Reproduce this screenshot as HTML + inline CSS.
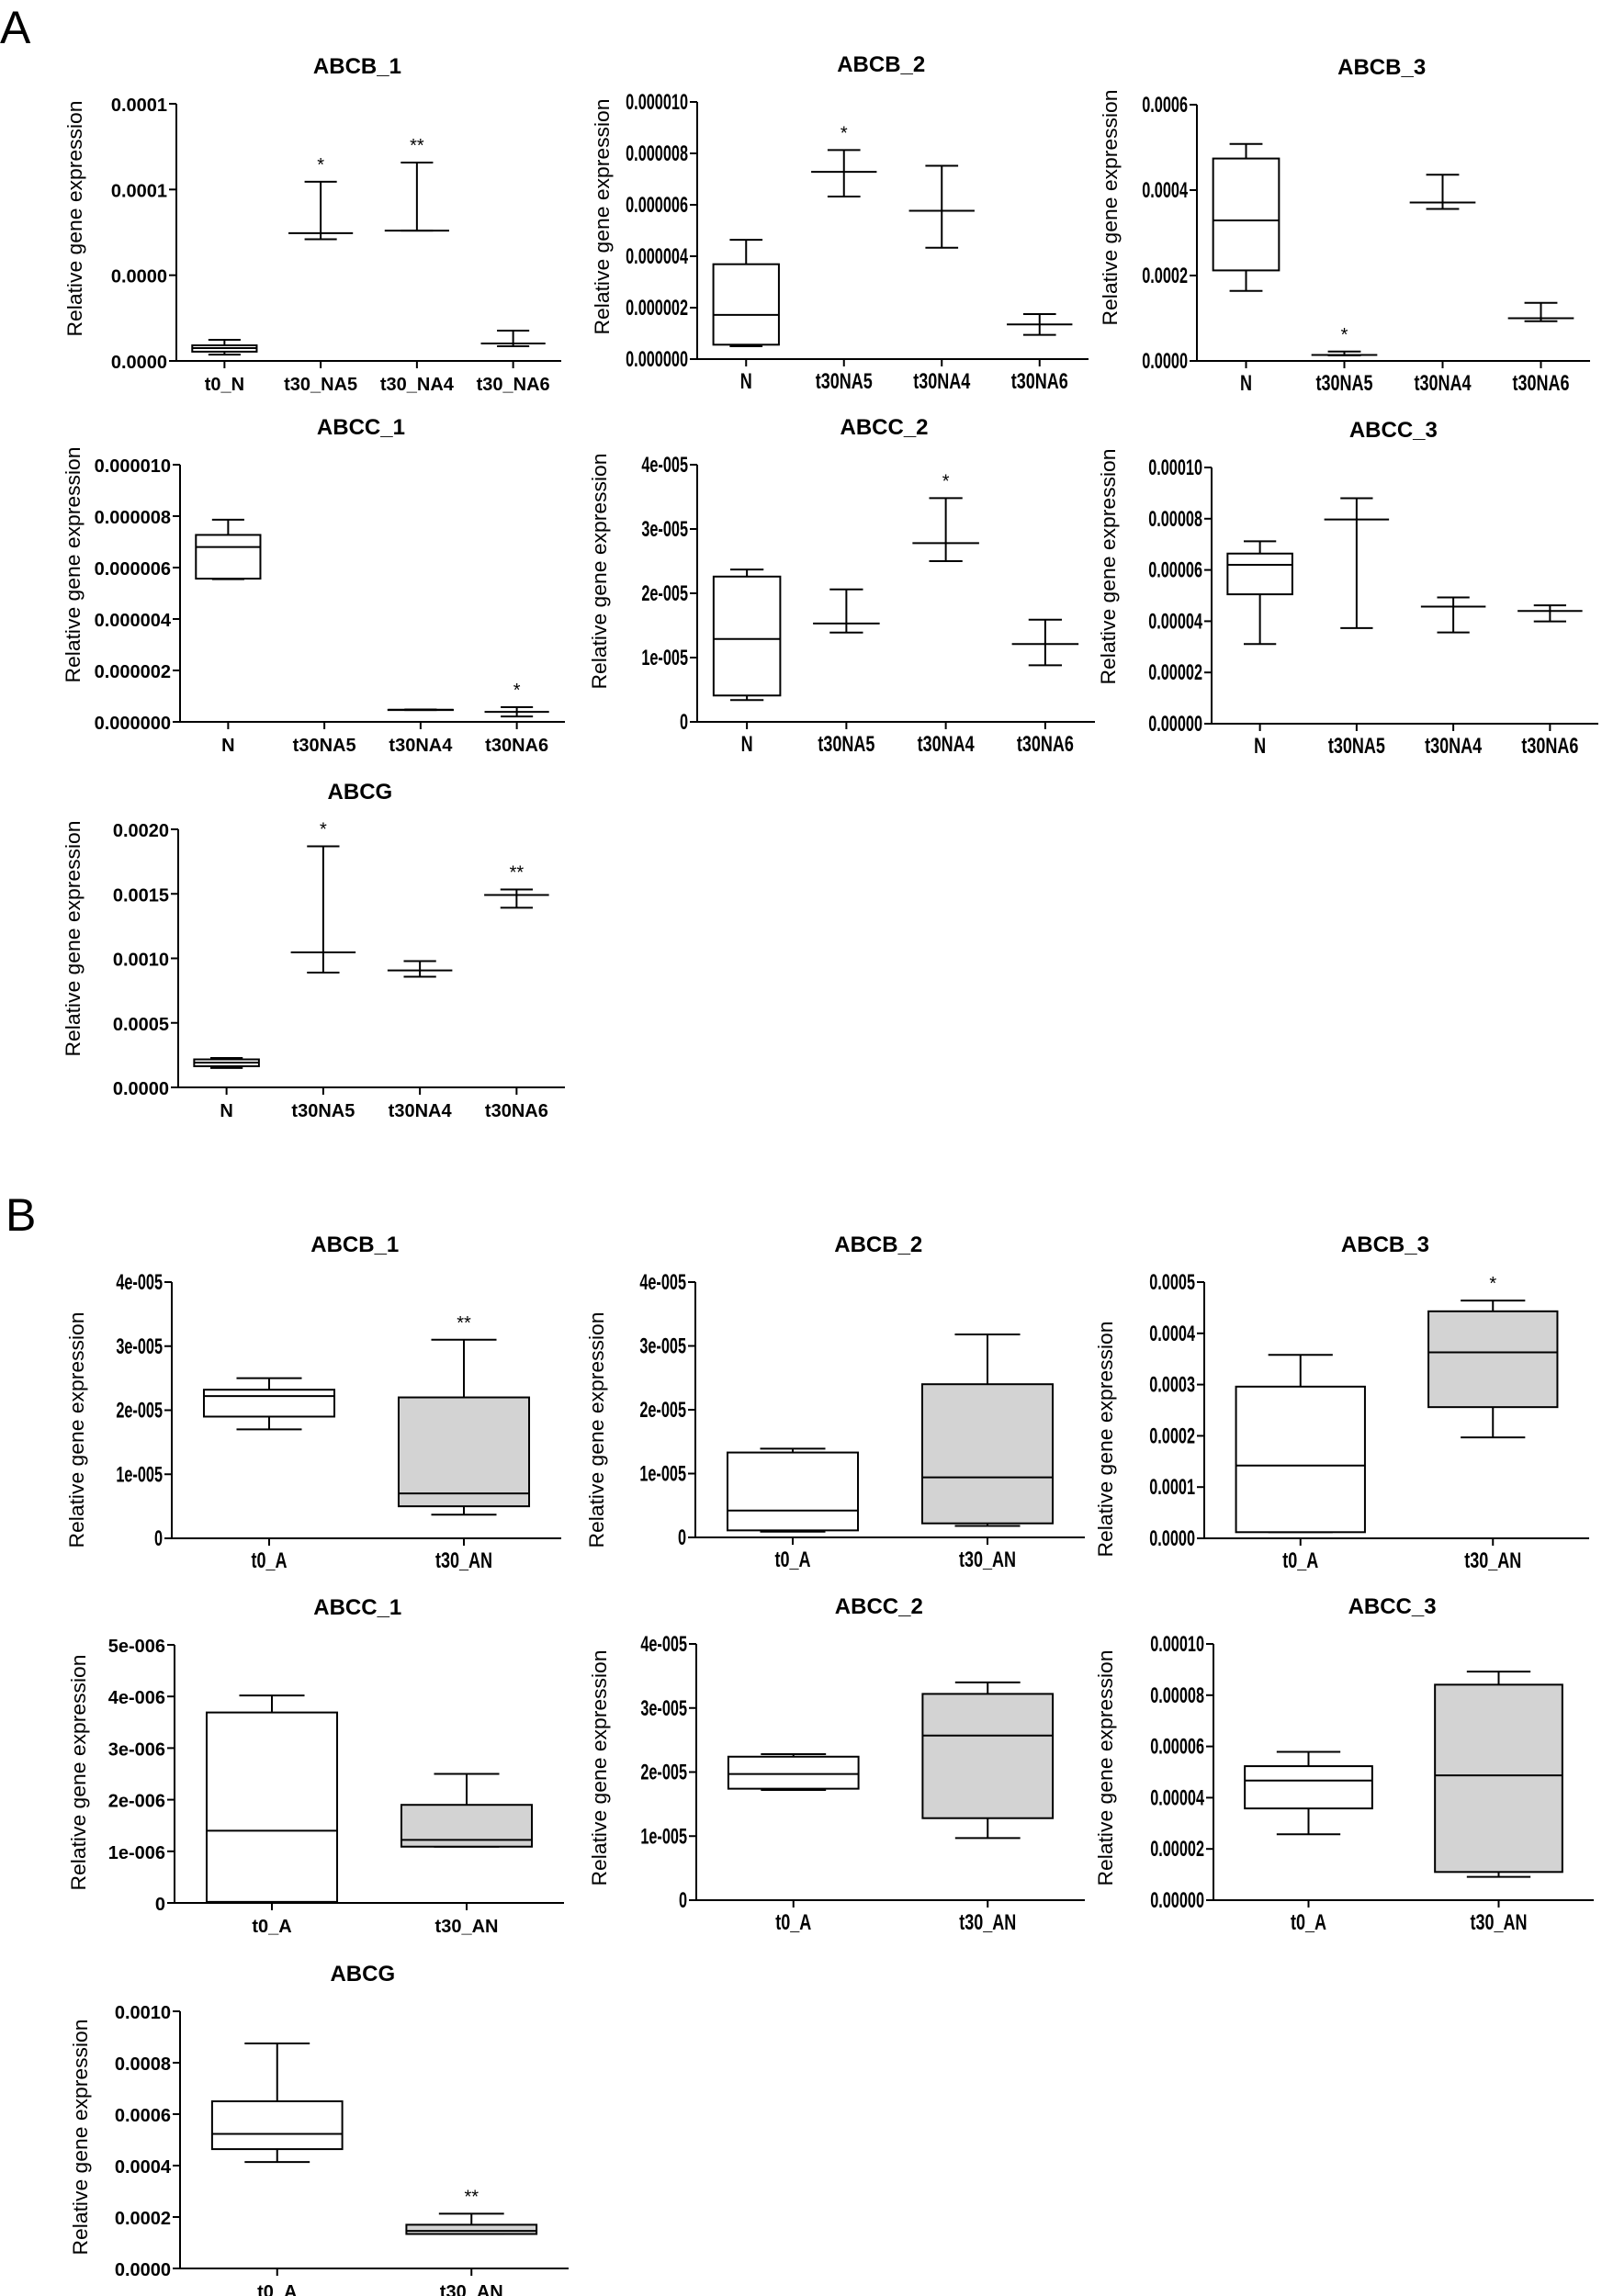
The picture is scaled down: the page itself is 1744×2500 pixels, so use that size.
<!DOCTYPE html>
<html><head><meta charset="utf-8"><style>
html,body{margin:0;padding:0;background:#fff;}
svg{display:block;font-family:"Liberation Sans",Arial,sans-serif;}
</style></head><body>
<svg id="fig" width="1744" height="2500" viewBox="0 0 1744 2500" xmlns="http://www.w3.org/2000/svg">
<rect width="1744" height="2500" fill="#fff"/>
<text x="0" y="47" font-size="50">A</text>
<text x="6" y="1340" font-size="50">B</text>
</svg>
<script>
// ---------- data ----------
const titles = ["ABCB_1","ABCB_2","ABCB_3","ABCC_1","ABCC_2","ABCC_3","ABCG","ABCB_1","ABCB_2","ABCB_3","ABCC_1","ABCC_2","ABCC_3","ABCG"];
const catsA1 = ["t0_N","t30_NA5","t30_NA4","t30_NA6"];
const catsA = ["N","t30NA5","t30NA4","t30NA6"];
const catsB = ["t0_A","t30_AN"];

// tick values & labels
const tA1 = [0,0.00005,0.0001,0.00015];      const lA1 = ["0.0000","0.0000","0.0001","0.0001"];
const tA2 = [0,2e-6,4e-6,6e-6,8e-6,1e-5];     const lA2 = ["0.000000","0.000002","0.000004","0.000006","0.000008","0.000010"];
const tA3 = [0,2e-4,4e-4,6e-4];               const lA3 = ["0.0000","0.0002","0.0004","0.0006"];
const tA4 = [0,2e-6,4e-6,6e-6,8e-6,1e-5];     const lA4 = ["0.000000","0.000002","0.000004","0.000006","0.000008","0.000010"];
const tA5 = [0,1e-5,2e-5,3e-5,4e-5];          const lA5 = ["0","1e-005","2e-005","3e-005","4e-005"];
const tA6 = [0,2e-5,4e-5,6e-5,8e-5,1e-4];     const lA6 = ["0.00000","0.00002","0.00004","0.00006","0.00008","0.00010"];
const tA7 = [0,5e-4,1e-3,1.5e-3,2e-3];        const lA7 = ["0.0000","0.0005","0.0010","0.0015","0.0020"];
const tB1 = [0,1e-5,2e-5,3e-5,4e-5];          const lB1 = ["0","1e-005","2e-005","3e-005","4e-005"];
const tB2 = [0,1e-5,2e-5,3e-5,4e-5];          const lB2 = ["0","1e-005","2e-005","3e-005","4e-005"];
const tB3 = [0,1e-4,2e-4,3e-4,4e-4,5e-4];     const lB3 = ["0.0000","0.0001","0.0002","0.0003","0.0004","0.0005"];
const tB4 = [0,1e-6,2e-6,3e-6,4e-6,5e-6];     const lB4 = ["0","1e-006","2e-006","3e-006","4e-006","5e-006"];
const tB5 = [0,1e-5,2e-5,3e-5,4e-5];          const lB5 = ["0","1e-005","2e-005","3e-005","4e-005"];
const tB6 = [0,2e-5,4e-5,6e-5,8e-5,1e-4];     const lB6 = ["0.00000","0.00002","0.00004","0.00006","0.00008","0.00010"];
const tB7 = [0,2e-4,4e-4,6e-4,8e-4,1e-3];     const lB7 = ["0.0000","0.0002","0.0004","0.0006","0.0008","0.0010"];

// box stats: hi whisker, q3, median, q1, lo whisker
const hiA1 = [1.23e-5,1.045e-4,1.157e-4,1.77e-5]; const q3A1 = [0.91e-5,7.45e-5,7.6e-5,1.02e-5]; const mdA1 = [0.75e-5,7.45e-5,7.6e-5,1.02e-5]; const q1A1 = [0.54e-5,7.45e-5,7.6e-5,1.02e-5]; const loA1 = [0.37e-5,7.1e-5,7.6e-5,0.86e-5];
const hiA2 = [4.64e-6,8.13e-6,7.52e-6,1.75e-6]; const q3A2 = [3.69e-6,7.28e-6,5.77e-6,1.35e-6]; const mdA2 = [1.72e-6,7.28e-6,5.77e-6,1.35e-6]; const q1A2 = [0.56e-6,7.28e-6,5.77e-6,1.35e-6]; const loA2 = [0.5e-6,6.32e-6,4.33e-6,0.94e-6];
const hiA3 = [5.08e-4,0.22e-4,4.36e-4,1.36e-4]; const q3A3 = [4.74e-4,0.14e-4,3.71e-4,1.0e-4]; const mdA3 = [3.29e-4,0.14e-4,3.71e-4,1.0e-4]; const q1A3 = [2.12e-4,0.14e-4,3.71e-4,1.0e-4]; const loA3 = [1.64e-4,0.13e-4,3.56e-4,0.93e-4];
const hiA4 = [7.86e-6,0,0.48e-6,0.57e-6]; const q3A4 = [7.27e-6,0,0.47e-6,0.39e-6]; const mdA4 = [6.8e-6,0,0.47e-6,0.39e-6]; const q1A4 = [5.57e-6,0,0.46e-6,0.39e-6]; const loA4 = [5.55e-6,0,0.46e-6,0.21e-6];
const hiA5 = [2.37e-5,2.06e-5,3.48e-5,1.59e-5]; const q3A5 = [2.26e-5,1.53e-5,2.78e-5,1.21e-5]; const mdA5 = [1.29e-5,1.53e-5,2.78e-5,1.21e-5]; const q1A5 = [0.41e-5,1.53e-5,2.78e-5,1.21e-5]; const loA5 = [0.34e-5,1.39e-5,2.5e-5,0.88e-5];
const hiA6 = [7.12e-5,8.8e-5,4.93e-5,4.62e-5]; const q3A6 = [6.64e-5,7.97e-5,4.57e-5,4.4e-5]; const mdA6 = [6.2e-5,7.97e-5,4.57e-5,4.4e-5]; const q1A6 = [5.05e-5,7.97e-5,4.57e-5,4.4e-5]; const loA6 = [3.11e-5,3.73e-5,3.56e-5,3.99e-5];
const hiA7 = [2.28e-4,1.868e-3,0.979e-3,1.534e-3]; const q3A7 = [2.17e-4,1.046e-3,0.907e-3,1.491e-3]; const mdA7 = [1.92e-4,1.046e-3,0.907e-3,1.491e-3]; const q1A7 = [1.64e-4,1.046e-3,0.907e-3,1.491e-3]; const loA7 = [1.5e-4,0.89e-3,0.858e-3,1.392e-3];
const hiB1 = [2.5e-5,3.1e-5]; const q3B1 = [2.32e-5,2.2e-5]; const mdB1 = [2.22e-5,0.7e-5]; const q1B1 = [1.9e-5,0.5e-5]; const loB1 = [1.7e-5,0.37e-5];
const hiB2 = [1.39e-5,3.18e-5]; const q3B2 = [1.33e-5,2.4e-5]; const mdB2 = [0.42e-5,0.94e-5]; const q1B2 = [0.11e-5,0.22e-5]; const loB2 = [0.09e-5,0.18e-5];
const hiB3 = [3.58e-4,4.64e-4]; const q3B3 = [2.96e-4,4.43e-4]; const mdB3 = [1.42e-4,3.63e-4]; const q1B3 = [0.12e-4,2.56e-4]; const loB3 = [0.12e-4,1.97e-4];
const hiB4 = [4.02e-6,2.5e-6]; const q3B4 = [3.69e-6,1.9e-6]; const mdB4 = [1.4e-6,1.22e-6]; const q1B4 = [0.02e-6,1.09e-6]; const loB4 = [0.02e-6,1.09e-6];
const hiB5 = [2.28e-5,3.4e-5]; const q3B5 = [2.24e-5,3.22e-5]; const mdB5 = [1.97e-5,2.57e-5]; const q1B5 = [1.74e-5,1.28e-5]; const loB5 = [1.72e-5,0.97e-5];
const hiB6 = [5.79e-5,8.92e-5]; const q3B6 = [5.23e-5,8.41e-5]; const mdB6 = [4.67e-5,4.87e-5]; const q1B6 = [3.58e-5,1.1e-5]; const loB6 = [2.57e-5,0.91e-5];
const hiB7 = [8.75e-4,2.13e-4]; const q3B7 = [6.5e-4,1.7e-4]; const mdB7 = [5.23e-4,1.46e-4]; const q1B7 = [4.64e-4,1.34e-4]; const loB7 = [4.14e-4,1.34e-4];

const starsA1 = ["","*","**",""]; const starsA2 = ["","*","",""]; const starsA3 = ["","*","",""];
const starsA4 = ["","","","*"]; const starsA5 = ["","","*",""]; const starsA6 = ["","","",""]; const starsA7 = ["","*","","**"];
const starsB1 = ["","**"]; const starsB2 = ["",""]; const starsB3 = ["","*"]; const starsB4 = ["",""]; const starsB5 = ["",""]; const starsB6 = ["",""]; const starsB7 = ["","**"];

// ---------- layout (not data) ----------
const panels = [
 {id:"a-abcb1",ax:192,end:611,top:113,bot:393,ylx:81,yly:238,cond:false,cats:catsA1,t:tA1,l:lA1,hi:hiA1,q3:q3A1,md:mdA1,q1:q1A1,lo:loA1,st:starsA1,gray:false},
 {id:"a-abcb2",ax:759,end:1185,top:111,bot:391,ylx:655,yly:236,cond:true,cats:catsA,t:tA2,l:lA2,hi:hiA2,q3:q3A2,md:mdA2,q1:q1A2,lo:loA2,st:starsA2,gray:false},
 {id:"a-abcb3",ax:1303,end:1731,top:114,bot:393,ylx:1208,yly:226,cond:true,cats:catsA,t:tA3,l:lA3,hi:hiA3,q3:q3A3,md:mdA3,q1:q1A3,lo:loA3,st:starsA3,gray:false},
 {id:"a-abcc1",ax:196,end:615,top:506,bot:786,ylx:79,yly:615,cond:false,cats:catsA,t:tA4,l:lA4,hi:hiA4,q3:q3A4,md:mdA4,q1:q1A4,lo:loA4,st:starsA4,gray:false},
 {id:"a-abcc2",ax:759,end:1192,top:506,bot:786,ylx:652,yly:622,cond:true,cats:catsA,t:tA5,l:lA5,hi:hiA5,q3:q3A5,md:mdA5,q1:q1A5,lo:loA5,st:starsA5,gray:false},
 {id:"a-abcc3",ax:1319,end:1740,top:509,bot:788,ylx:1206,yly:617,cond:true,cats:catsA,t:tA6,l:lA6,hi:hiA6,q3:q3A6,md:mdA6,q1:q1A6,lo:loA6,st:starsA6,gray:false},
 {id:"a-abcg",ax:194,end:615,top:903,bot:1184,ylx:79,yly:1022,cond:false,cats:catsA,t:tA7,l:lA7,hi:hiA7,q3:q3A7,md:mdA7,q1:q1A7,lo:loA7,st:starsA7,gray:false},
 {id:"b-abcb1",ax:187,end:611,top:1396,bot:1675,ylx:83,yly:1557,cond:true,cats:catsB,t:tB1,l:lB1,hi:hiB1,q3:q3B1,md:mdB1,q1:q1B1,lo:loB1,st:starsB1,gray:true},
 {id:"b-abcb2",ax:757,end:1181,top:1396,bot:1674,ylx:649,yly:1557,cond:true,cats:catsB,t:tB2,l:lB2,hi:hiB2,q3:q3B2,md:mdB2,q1:q1B2,lo:loB2,st:starsB2,gray:true},
 {id:"b-abcb3",ax:1311,end:1730,top:1396,bot:1675,ylx:1203,yly:1567,cond:true,cats:catsB,t:tB3,l:lB3,hi:hiB3,q3:q3B3,md:mdB3,q1:q1B3,lo:loB3,st:starsB3,gray:true},
 {id:"b-abcc1",ax:190,end:614,top:1791,bot:2072,ylx:85,yly:1930,cond:false,cats:catsB,t:tB4,l:lB4,hi:hiB4,q3:q3B4,md:mdB4,q1:q1B4,lo:loB4,st:starsB4,gray:true},
 {id:"b-abcc2",ax:758,end:1181,top:1790,bot:2069,ylx:652,yly:1925,cond:true,cats:catsB,t:tB5,l:lB5,hi:hiB5,q3:q3B5,md:mdB5,q1:q1B5,lo:loB5,st:starsB5,gray:true},
 {id:"b-abcc3",ax:1321,end:1735,top:1790,bot:2069,ylx:1203,yly:1925,cond:true,cats:catsB,t:tB6,l:lB6,hi:hiB6,q3:q3B6,md:mdB6,q1:q1B6,lo:loB6,st:starsB6,gray:true},
 {id:"b-abcg",ax:196,end:619,top:2190,bot:2470,ylx:87,yly:2327,cond:false,cats:catsB,t:tB7,l:lB7,hi:hiB7,q3:q3B7,md:mdB7,q1:q1B7,lo:loB7,st:starsB7,gray:true}
];

const NS = "http://www.w3.org/2000/svg";
const svg = document.getElementById("fig");
function mk(tag, attrs, parent){ const e=document.createElementNS(NS,tag); for(const k in attrs) e.setAttribute(k,attrs[k]); parent.appendChild(e); return e; }

panels.forEach((p, pi) => {
  const g = mk("g", {}, svg);
  
  
  const maxV = p.t[p.t.length-1];
  const y = v => p.bot - (v / maxV) * (p.bot - p.top);
  const len = p.end - p.ax, n = p.cats.length, band = len / n;
  const x = i => p.ax + (i + 0.5) * band;
  const bw = band * 0.67;
  const fs = p.cond ? 22 : 20;
  const sx = p.cond ? 0.74 : 1, sy = p.cond ? 1.1 : 1;

  const title = mk("text", {x: p.ax + len*0.47, y: p.top - 33, "text-anchor":"middle", "font-size":24, "font-weight":"bold"}, g);
  title.textContent = titles[pi];
  
  

  const yl = mk("text", {x: 0, y: 0, transform:`translate(${p.ylx+8},${p.yly}) rotate(-90)`, "text-anchor":"middle", "font-size":22, textLength:257, lengthAdjust:"spacingAndGlyphs"}, g);
  yl.textContent = "Relative gene expression";
  
  

  const yax = mk("line", {x1:p.ax, y1:p.top, x2:p.ax, y2:p.bot, stroke:"#000", "stroke-width":2}, g);
  
  
  const xax = mk("line", {x1:p.ax-1, y1:p.bot, x2:p.end, y2:p.bot, stroke:"#000", "stroke-width":2}, g);
  
  

  p.t.forEach((tv, ti) => {
    const ty = y(tv);
    const tk = mk("line", {x1:p.ax-8, y1:ty, x2:p.ax, y2:ty, stroke:"#000", "stroke-width":2}, g);
    
    
    const tl = mk("text", {x:0, y:0, transform:`translate(${p.ax-10},${ty+8}) scale(${sx},${sy})`, "text-anchor":"end", "font-size":fs, "font-weight":"bold"}, g);
    tl.textContent = p.l[ti];
    
    
  });

  p.cats.forEach((c, i) => {
    const cx = x(i);
    const tk = mk("line", {x1:cx, y1:p.bot, x2:cx, y2:p.bot+8, stroke:"#000", "stroke-width":2}, g);
    
    
    const cl = mk("text", {x:0, y:0, transform:`translate(${cx},${p.bot+32}) scale(${p.cond?0.82:1},${sy})`, "text-anchor":"middle", "font-size":fs, "font-weight":"bold"}, g);
    cl.textContent = c;
    
    

    if (p.hi[i] <= 0) return;
    const bg = mk("g", {}, g);
    
    
    const yh=y(p.hi[i]), y3=y(p.q3[i]), ym=y(p.md[i]), y1=y(p.q1[i]), yo=y(p.lo[i]);
    const fill = (p.gray && i===1) ? "#d3d3d3" : "#fff";
    mk("line", {x1:cx, y1:yh, x2:cx, y2:y3, stroke:"#000", "stroke-width":2}, bg);
    mk("line", {x1:cx, y1:y1, x2:cx, y2:yo, stroke:"#000", "stroke-width":2}, bg);
    mk("line", {x1:cx-bw/4, y1:yh, x2:cx+bw/4, y2:yh, stroke:"#000", "stroke-width":2}, bg);
    mk("line", {x1:cx-bw/4, y1:yo, x2:cx+bw/4, y2:yo, stroke:"#000", "stroke-width":2}, bg);
    mk("rect", {x:cx-bw/2, y:y3, width:bw, height:Math.max(0,y1-y3), fill:fill, stroke:"#000", "stroke-width":2}, bg);
    mk("line", {x1:cx-bw/2, y1:ym, x2:cx+bw/2, y2:ym, stroke:"#000", "stroke-width":2}, bg);
    if (p.st[i]) {
      const s = mk("text", {x:cx, y:yh-12, "text-anchor":"middle", "font-size":20}, bg);
      s.textContent = p.st[i];
      
      
    }
  });
});
</script>
</body></html>
